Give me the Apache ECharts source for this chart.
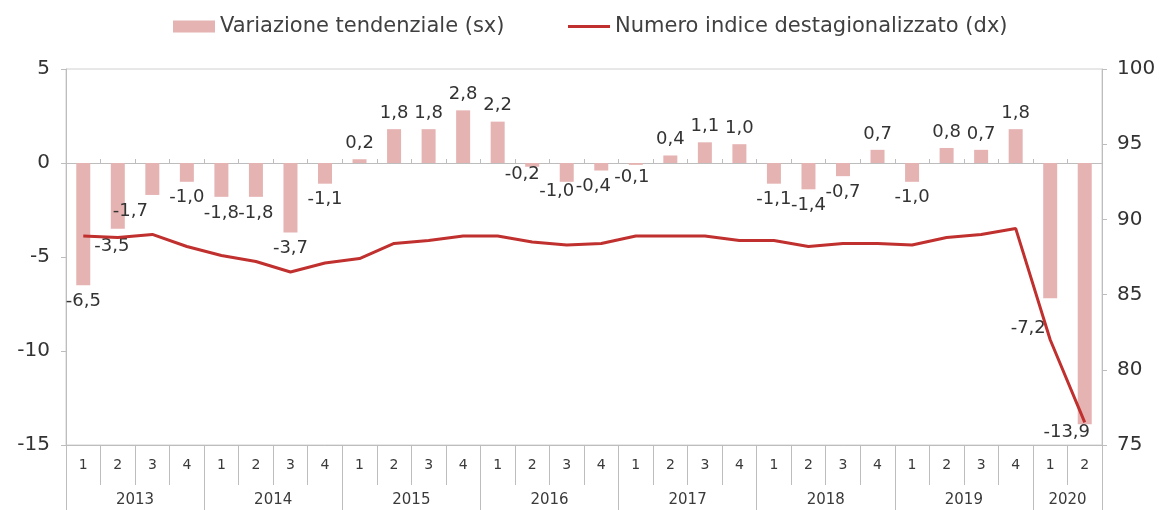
<!DOCTYPE html>
<html>
<head>
<meta charset="utf-8">
<script src="https://cdn.jsdelivr.net/npm/echarts@6/dist/echarts.min.js"></script>
<style>
  html, body { margin: 0; padding: 0; background: #fff; }
  #chart { width: 1167px; height: 510px; }
</style>
</head>
<body>
<div id="chart"></div>
<script>
// years on the lower axis row and how many quarters each one has
const years = ['2013', '2014', '2015', '2016', '2017', '2018', '2019', '2020'];
const quartersPerYear = [4, 4, 4, 4, 4, 4, 4, 2];

// variazione tendenziale (%), left axis
const trendChange = [
  -6.5, -3.5, -1.7, -1.0,
  -1.8, -1.8, -3.7, -1.1,
  0.2, 1.8, 1.8, 2.8,
  2.2, -0.2, -1.0, -0.4,
  -0.1, 0.4, 1.1, 1.0,
  -1.1, -1.4, -0.7, 0.7,
  -1.0, 0.8, 0.7, 1.8,
  -7.2, -13.9
];

// numero indice destagionalizzato, right axis
const indexSA = [
  88.9, 88.8, 89.0, 88.2,
  87.6, 87.2, 86.5, 87.1,
  87.4, 88.4, 88.6, 88.9,
  88.9, 88.5, 88.3, 88.4,
  88.9, 88.9, 88.9, 88.6,
  88.6, 88.2, 88.4, 88.4,
  88.3, 88.8, 89.0, 89.4,
  82.0, 76.5
];

const BAR_NAME = 'Variazione tendenziale (sx)';
const LINE_NAME = 'Numero indice destagionalizzato (dx)';
const FONT = 'DejaVu Sans';
const AXIS_GREY = '#bdbdbd';
const TEXT = '#3a3a3a';

// quarter labels 1..4 per year
const quarters = [];
quartersPerYear.forEach(n => {
  for (let q = 1; q <= n; q++) quarters.push(String(q));
});

// year centres and boundaries on a 0..N scale
const yearCentres = [];
const yearBounds = [0];
let acc = 0;
quartersPerYear.forEach(n => {
  yearCentres.push(acc + n / 2);
  acc += n;
  yearBounds.push(acc);
});

// a few labels were nudged in the original to avoid overlaps
const labelNudge = {
  1: [-6, 2],
  2: [-22, 0],
  13: [-10, -8],
  14: [-10, -6],
  15: [-8, 0],
  16: [-4, -4],
  28: [-22, 14],
  29: [-18, -8]
};

const fmt = v => v.toFixed(1).replace('.', ',');

const barData = trendChange.map((v, i) => ({
  value: v,
  label: {
    position: v >= 0 ? 'top' : 'bottom',
    offset: labelNudge[i] || [0, 0]
  }
}));

const chart = echarts.init(document.getElementById('chart'));

const legendText = { fontFamily: FONT, fontSize: 21, color: '#404040' };

const option = {
  backgroundColor: '#fff',
  animation: false,
  legend: [
    {
      top: 11,
      left: 168,
      itemWidth: 42,
      itemHeight: 12,
      textStyle: legendText,
      data: [{ name: BAR_NAME, icon: 'rect' }]
    },
    {
      top: 11,
      left: 563,
      itemWidth: 42,
      itemHeight: 3,
      textStyle: legendText,
      data: [{ name: LINE_NAME, icon: 'rect' }]
    }
  ],
  grid: {
    left: 66,
    right: 65,
    top: 69,
    bottom: 65,
    show: true,
    borderColor: '#d0d0d0',
    borderWidth: 1
  },
  xAxis: [
    {
      // quarter row
      type: 'category',
      data: quarters,
      position: 'bottom',
      axisLine: { onZero: false, lineStyle: { color: AXIS_GREY } },
      axisTick: { show: true, interval: 0, length: 40, lineStyle: { color: AXIS_GREY } },
      axisLabel: { interval: 0, margin: 13, fontFamily: FONT, fontSize: 14, color: TEXT }
    },
    {
      // year row
      type: 'value',
      min: 0,
      max: quarters.length,
      position: 'bottom',
      splitLine: { show: false },
      axisLine: { show: false, onZero: false },
      axisTick: {
        show: true,
        length: 66,
        customValues: yearBounds,
        lineStyle: { color: AXIS_GREY }
      },
      axisLabel: {
        margin: 48,
        customValues: yearCentres,
        formatter: v => years[yearCentres.indexOf(v)] || '',
        fontFamily: FONT,
        fontSize: 15,
        color: TEXT
      }
    },
    {
      // zero line with small ticks
      type: 'category',
      data: quarters,
      position: 'bottom',
      axisLine: { onZero: true, onZeroAxisIndex: 0, lineStyle: { color: AXIS_GREY } },
      axisTick: { show: true, interval: 0, inside: true, length: 4, lineStyle: { color: AXIS_GREY } },
      axisLabel: { show: false }
    }
  ],
  yAxis: [
    {
      type: 'value',
      min: -15,
      max: 5,
      interval: 5,
      splitLine: { show: false },
      axisLine: { show: true, lineStyle: { color: AXIS_GREY } },
      axisTick: { show: true, length: 5, lineStyle: { color: AXIS_GREY } },
      axisLabel: { margin: 16, fontFamily: FONT, fontSize: 20, color: '#333' }
    },
    {
      type: 'value',
      min: 75,
      max: 100,
      interval: 5,
      splitLine: { show: false },
      axisLine: { show: true, lineStyle: { color: AXIS_GREY } },
      axisTick: { show: true, length: 5, lineStyle: { color: AXIS_GREY } },
      axisLabel: { margin: 15, fontFamily: FONT, fontSize: 20, color: '#333' }
    }
  ],
  series: [
    {
      name: BAR_NAME,
      type: 'bar',
      xAxisIndex: 0,
      yAxisIndex: 0,
      barWidth: 14,
      itemStyle: { color: '#e6b3b3' },
      label: {
        show: true,
        distance: 7,
        formatter: p => fmt(p.value),
        fontFamily: FONT,
        fontSize: 18,
        color: '#333'
      },
      data: barData
    },
    {
      name: LINE_NAME,
      type: 'line',
      xAxisIndex: 0,
      yAxisIndex: 1,
      symbol: 'none',
      lineStyle: { color: '#c0302e', width: 3 },
      itemStyle: { color: '#c0302e' },
      data: indexSA,
      z: 3
    }
  ]
};

chart.setOption(option);
</script>
</body>
</html>
